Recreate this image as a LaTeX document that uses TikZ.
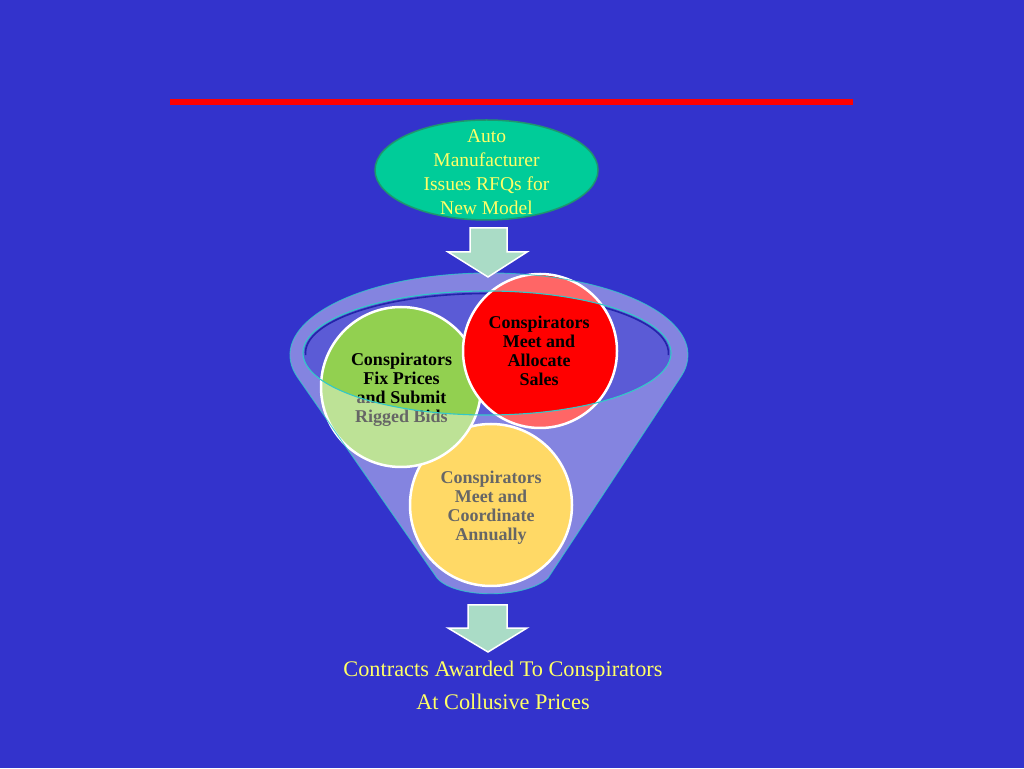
\documentclass[tikz,border=0pt]{standalone}
\usepackage{fontspec}
\setmainfont{Liberation Serif}
\usetikzlibrary{shapes.geometric}
\definecolor{bg}{RGB}{51,51,204}
\definecolor{rfqfill}{RGB}{0,204,153}
\definecolor{rfqline}{RGB}{30,150,110}
\definecolor{yel}{RGB}{255,255,102}
\definecolor{mint}{RGB}{170,220,198}
\definecolor{cgreen}{RGB}{146,208,80}
\definecolor{cred}{RGB}{255,0,0}
\definecolor{cgold}{RGB}{255,192,0}
\definecolor{teal}{RGB}{50,200,200}
\definecolor{darkrim}{RGB}{36,36,170}
\tikzset{
  bubble/.style={circle, draw=white, line width=2.5pt, inner sep=0pt},
  bubbletext/.style={align=center, font=\bfseries\fontsize{18}{19}\selectfont, text=black},
  blockarrow/.style={fill=mint, draw=white, line width=1.5pt, line join=miter},
  yeltext/.style={align=center, text=yel},
}
\begin{document}
\begin{tikzpicture}[x=1pt,y=1pt]
\fill[bg] (0,0) rectangle (1024,768);
\useasboundingbox (0,0) rectangle (1024,768);

% red rule
\draw[cred, line width=6pt] (170,666) -- (853,666);

% funnel opening (back)
\fill[white, fill opacity=0.2] (487,415) ellipse [x radius=184pt, y radius=62pt];
\draw[darkrim, line width=1.6pt] (487,415) ++(182:181.5pt and 59.5pt)
   arc[start angle=182, end angle=-2, x radius=181.5pt, y radius=59.5pt];

% circles
\node[bubble, fill=cgold, minimum size=162pt] (coord) at (491,263) {};
\node[bubbletext] (coordtext) at (491,260)
  {Conspirators\\Meet and\\Coordinate\\Annually};
\node[bubble, fill=cgreen, minimum size=160pt] (fix) at (401,381) {};
\node[bubbletext] (fixtext) at (401.5,378)
  {Conspirators\\Fix Prices\\and Submit\\Rigged Bids};
\node[bubble, fill=cred, minimum size=154pt] (alloc) at (540,417) {};
\node[bubbletext] (alloctext) at (539,417)
  {Conspirators\\Meet and\\Allocate\\Sales};

% funnel front (translucent)
\fill[white, fill opacity=0.4, even odd rule]
  (437,190) -- (297.7,390.4)
  arc[start angle=196, end angle=-15.2, x radius=199pt, y radius=82pt]
  -- (548,190) .. controls (525,169) and (455,169) .. (437,190) -- cycle
  (487,415) ellipse [x radius=184pt, y radius=62pt];
\draw[teal, line width=0.9pt, opacity=0.8]
  (437,190) -- (297.7,390.4)
  arc[start angle=196, end angle=-15.2, x radius=199pt, y radius=82pt]
  -- (548,190) .. controls (525,169) and (455,169) .. (437,190) -- cycle;
\draw[teal, line width=1.1pt] (487,415) ellipse [x radius=184pt, y radius=62pt];

% top ellipse
\node[ellipse, fill=rfqfill, draw=rfqline, line width=1.5pt, minimum width=223pt,
  minimum height=100pt, inner sep=0pt] (rfqshape) at (486.5,598) {};
\node[yeltext, font=\fontsize{19.5}{24}\selectfont] (rfq) at (486.5,596)
  {Auto\\Manufacturer\\Issues RFQs for\\New Model};

% block arrows
\draw[blockarrow] (470,540) -- (507,540) -- (507,516) -- (527,516) -- (488,491)
  -- (448,516) -- (470,516) -- cycle;
\draw[blockarrow] (468,163) -- (507,163) -- (507,140) -- (527,140) -- (488,116)
  -- (448,140) -- (468,140) -- cycle;

% result text
\node[yeltext, font=\fontsize{22.3}{33}\selectfont] (result) at (503,82.5)
  {Contracts Awarded To Conspirators\\At Collusive Prices};
\end{tikzpicture}
\end{document}
